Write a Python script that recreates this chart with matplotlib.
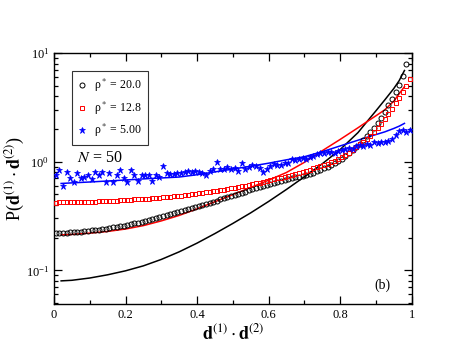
import numpy as np
import matplotlib
matplotlib.use("Agg")
import matplotlib.pyplot as plt
from matplotlib.ticker import LogLocator, MultipleLocator, NullFormatter, FormatStrFormatter

plt.rcParams['font.family'] = ['Liberation Serif', 'DejaVu Serif']
plt.rcParams['mathtext.fontset'] = 'stix'

## data ##
# simulation histograms, bin centres 0.005 ... 0.995
x_bins = np.arange(100) * 0.01 + 0.005

rho20_sim = [0.220, 0.220, 0.221, 0.222, 0.223, 0.224, 0.225, 0.227, 0.229, 0.231,
             0.233, 0.235, 0.237, 0.240, 0.242, 0.245, 0.248, 0.251, 0.254, 0.258,
             0.262, 0.266, 0.270, 0.275, 0.280, 0.285, 0.290, 0.296, 0.302, 0.308,
             0.314, 0.320, 0.327, 0.334, 0.341, 0.348, 0.356, 0.364, 0.372, 0.381,
             0.390, 0.399, 0.408, 0.418, 0.428, 0.438, 0.449, 0.460, 0.471, 0.483,
             0.495, 0.507, 0.519, 0.531, 0.544, 0.557, 0.570, 0.584, 0.598, 0.612,
             0.626, 0.640, 0.654, 0.668, 0.682, 0.696, 0.708, 0.718, 0.728, 0.738,
             0.750, 0.765, 0.790, 0.815, 0.840, 0.870, 0.900, 0.930, 0.970, 1.010,
             1.060, 1.120, 1.190, 1.270, 1.360, 1.460, 1.580, 1.720, 1.880, 2.060,
             2.280, 2.540, 2.860, 3.290, 3.740, 4.360, 5.100, 6.200, 7.900]

rho12_sim = [0.420, 0.421, 0.422, 0.422, 0.423, 0.424, 0.424, 0.425, 0.426, 0.427,
             0.428, 0.429, 0.430, 0.432, 0.433, 0.435, 0.437, 0.439, 0.441, 0.443,
             0.445, 0.447, 0.449, 0.451, 0.453, 0.455, 0.457, 0.460, 0.463, 0.466,
             0.469, 0.472, 0.475, 0.479, 0.483, 0.487, 0.491, 0.495, 0.500, 0.505,
             0.510, 0.515, 0.521, 0.527, 0.533, 0.540, 0.547, 0.554, 0.562, 0.570,
             0.578, 0.586, 0.594, 0.603, 0.612, 0.621, 0.631, 0.641, 0.652, 0.663,
             0.675, 0.687, 0.700, 0.713, 0.727, 0.741, 0.756, 0.772, 0.789, 0.806,
             0.825, 0.845, 0.866, 0.888, 0.911, 0.935, 0.960, 0.990, 1.020, 1.060,
             1.100, 1.150, 1.210, 1.280, 1.360, 1.440, 1.520, 1.620, 1.740, 1.880,
             2.030, 2.220, 2.450, 2.720, 3.050, 3.450, 3.850, 4.350, 5.000, 5.800]

rho5_sim = [0.76, 0.84, 0.60, 0.80, 0.70, 0.65, 0.78, 0.71, 0.73, 0.75,
            0.69, 0.80, 0.75, 0.80, 0.655, 0.78, 0.655, 0.76, 0.84, 0.71,
            0.655, 0.84, 0.76, 0.66, 0.75, 0.75, 0.76, 0.66, 0.76, 0.73,
            0.91, 0.78, 0.77, 0.77, 0.79, 0.78, 0.80, 0.82, 0.81, 0.82,
            0.80, 0.78, 0.75, 0.82, 0.85, 1.00, 0.85, 0.86, 0.89, 0.85,
            0.88, 0.82, 0.98, 0.86, 0.89, 0.94, 0.91, 0.88, 0.80, 0.86,
            0.91, 0.96, 0.93, 0.94, 0.965, 0.98, 1.05, 1.03, 1.06, 1.08,
            1.05, 1.10, 1.12, 1.17, 1.20, 1.19, 1.22, 1.24, 1.21, 1.26,
            1.28, 1.30, 1.33, 1.32, 1.38, 1.42, 1.40, 1.46, 1.42, 1.52,
            1.50, 1.53, 1.52, 1.56, 1.60, 1.75, 1.90, 1.95, 1.88, 1.96]

# theory curves
x_theory = [0.02, 0.05, 0.10, 0.15, 0.20, 0.25, 0.30, 0.35, 0.40, 0.45, 0.50,
            0.55, 0.60, 0.65, 0.70, 0.75, 0.80, 0.85, 0.875, 0.90, 0.925, 0.95,
            0.965, 0.98]
rho20_th = [0.080, 0.081, 0.085, 0.091, 0.099, 0.110, 0.126, 0.148, 0.178, 0.218,
            0.270, 0.338, 0.430, 0.555, 0.725, 0.955, 1.290, 1.850, 2.330, 2.930,
            3.700, 4.700, 5.550, 6.900]
rho12_th = [0.212, 0.214, 0.220, 0.228, 0.240, 0.258, 0.285, 0.320, 0.368, 0.428,
            0.498, 0.578, 0.675, 0.795, 0.985, 1.260, 1.600, 2.050, 2.330, 2.640,
            3.000, 3.600, 4.200, 4.900]
rho5_th = [0.630, 0.638, 0.650, 0.664, 0.678, 0.694, 0.708, 0.722, 0.758, 0.805,
           0.855, 0.908, 0.968, 1.040, 1.110, 1.235, 1.395, 1.575, 1.675, 1.775,
           1.880, 2.020, 2.120, 2.250]

fig = plt.figure(figsize=(4.63, 3.58), dpi=100)
ax = fig.add_axes([0.1166, 0.1508, 0.889 - 0.1166, 0.852 - 0.1508])

ax.plot(x_bins[:len(rho20_sim)], rho20_sim, 'o', mfc='none', mec='black', ms=3.6, mew=0.7,
        label='ρ$^*$ = 20.0', zorder=3)
ax.plot(x_bins, rho12_sim, 's', mfc='none', mec='red', ms=3.4, mew=0.7,
        label='ρ$^*$ = 12.8', zorder=3)
ax.plot(x_bins, rho5_sim, '*', color='blue', ms=4.5, mew=0.5,
        label='ρ$^*$ = 5.00', zorder=3)

ax.plot(x_theory, rho20_th, '-', color='black', lw=1.1)
ax.plot(x_theory, rho12_th, '-', color='red', lw=1.1)
ax.plot(x_theory, rho5_th, '-', color='blue', lw=1.1)

ax.set_yscale('log')
ax.set_xlim(0, 1)
ax.set_ylim(0.049, 10)
ax.xaxis.set_major_locator(MultipleLocator(0.2))
ax.xaxis.set_minor_locator(MultipleLocator(0.1))
ax.xaxis.set_major_formatter(FormatStrFormatter('%g'))
ax.yaxis.set_major_locator(LogLocator(base=10))
ax.yaxis.set_minor_locator(LogLocator(base=10, subs=np.arange(2, 10)))
ax.yaxis.set_minor_formatter(NullFormatter())

ax.tick_params(which='both', direction='in', top=True, right=True, labelsize=9, width=0.9)
ax.tick_params(which='major', length=6)
ax.tick_params(which='minor', length=3)
for s in ax.spines.values():
    s.set_linewidth(1.0)

ax.set_xlabel(r'$\mathbf{d}^{(1)}\cdot\mathbf{d}^{(2)}$', fontsize=13, labelpad=2)
ax.set_ylabel(r'P($\mathbf{d}^{(1)}\cdot\mathbf{d}^{(2)}$)', fontsize=13)
ax.yaxis.set_label_coords(-0.075, 0.5)

leg = ax.legend(loc='upper left', bbox_to_anchor=(0.05, 0.928), fontsize=8.5, frameon=True,
                fancybox=False, edgecolor='black', handlelength=0.8, handletextpad=0.6,
                borderpad=0.5, labelspacing=0.45, borderaxespad=0)
leg.get_frame().set_linewidth(0.8)

ax.text(0.065, 0.566, '$N$ = 50', transform=ax.transAxes, fontsize=11.5)
ax.text(0.895, 0.06, '(b)', transform=ax.transAxes, fontsize=10)

fig.savefig('out.png', dpi=100)
